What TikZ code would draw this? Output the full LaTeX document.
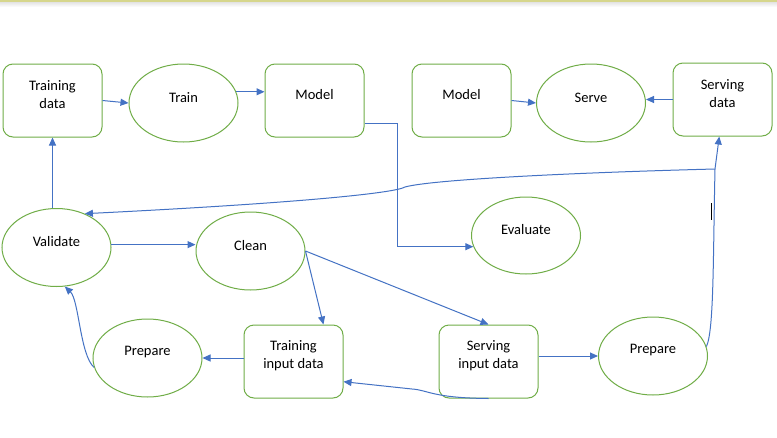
\documentclass[tikz,border=0pt]{standalone}
\usepackage{fontspec}
\setmainfont{Carlito}
\usetikzlibrary{arrows.meta,shapes.geometric}

\definecolor{boxgreen}{RGB}{112,173,71}
\definecolor{flowblue}{RGB}{68,114,196}
\definecolor{rimyellow}{RGB}{214,214,140}

\begin{document}
\begin{tikzpicture}[x=1pt,y=-1pt,
    every node/.style={inner sep=0pt},
    datum/.style={draw=boxgreen,line width=1pt,rounded corners=10pt,minimum width=99pt,minimum height=73pt},
    task/.style={draw=boxgreen,line width=1pt,ellipse,minimum width=109pt,minimum height=78pt},
    caption/.style={draw=none,font=\fontsize{14.5}{18}\selectfont,align=center,yshift=5.5pt},
    flow/.style={draw=flowblue,line width=1pt,-{Triangle[length=8pt,width=7pt]}}]
        \useasboundingbox (0,0) rectangle (777,437);
        \fill [white] (0,0) rectangle (777,437);
        \shade [top color=black!12,bottom color=white] (0,1.5) rectangle (777,7);
        \draw [rimyellow,line width=1.5pt] (0,0.75) -- (777,0.75);
        \node [datum,label={[caption]center:{Training\\data}}] (tdata) at (52.5,100.5) {};
        \node [task,label={[caption]center:Train}] (train) at (183.5,103) {};
        \node [datum,label={[caption]center:Model}] (model) at (314.5,100.5) {};
        \node [datum,label={[caption]center:Model}] (smodel) at (461.5,100.5) {};
        \node [task,label={[caption]center:Serve}] (serve) at (591,103) {};
        \node [datum,label={[caption]center:{Serving\\data}}] (sdata) at (722.5,99.5) {};
        \node [task,label={[caption]center:Validate}] (validate) at (56.5,247.5) {};
        \node [task,label={[caption]center:Clean}] (clean) at (250.5,251) {};
        \node [task,minimum height=77pt,label={[caption]center:Evaluate}] (evaluate) at (526,235.5) {};
        \node [task,label={[caption]center:Prepare}] (tprep) at (147.5,358) {};
        \node [datum,label={[caption]center:{Training\\input data}}] (tinput) at (293.5,361.5) {};
        \node [datum,label={[caption]center:{Serving\\input data}}] (sinput) at (488.5,361.5) {};
        \node [task,label={[caption]center:Prepare}] (sprep) at (653,356) {};
        \coordinate (fork) at (715,169);
        \draw [flow] (tdata.east) -- (train.west);
        \draw [flow] (train.12) -- (train.12 -| model.west);
        \draw [flow] (model.-25) -- ++(33,0) |- (evaluate.192);
        \draw [flow] (smodel.east) -- (serve.west);
        \draw [flow] (sdata.west) -- (sdata.west -| serve.east);
        \draw [flow] (validate.north -| tdata.south) -- (tdata.south);
        \draw [flow] (validate.3) -- (validate.3 -| clean.west);
        \draw [flow] (clean.east) -- (tinput.51);
        \draw [flow] (clean.east) -- (sinput.north);
        \draw [flow] (tinput.west |- tprep.east) -- (tprep.east);
        \draw [flow] (tprep.190) .. controls (80,355) and (79,300) .. (validate.-78);
        \draw [flow] (sinput.south) .. controls (432,398) and (428,390) .. (412,389) -- (tinput.-22);
        \draw [flow] (sprep.west -| sinput.east) -- (sprep.west);
        \draw [flow] (sprep.10) .. controls (714,330) and (713,260) .. (fork) -- (sdata.-95);
        \draw [flow] (fork) .. controls (560,173) and (430,180) .. (405,187) .. controls (395,193) and (300,203) .. (validate.50);
        \draw [black,line width=1pt] (711,203) -- (711,220);
\end{tikzpicture}
\end{document}
